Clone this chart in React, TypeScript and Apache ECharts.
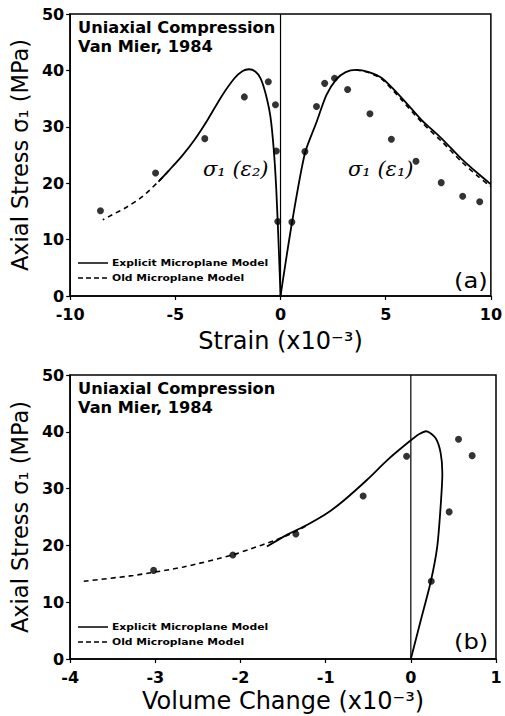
import React, { useEffect, useRef } from "react";
import * as echarts from "echarts";

// ---------- Panel (a): stress vs strain (x10^-3) ----------
const aTestLeft: [number, number][] = [
  [-8.56, 15.1], [-5.94, 21.8], [-3.6, 27.9], [-1.72, 35.3],
  [-0.58, 38.0], [-0.24, 33.9], [-0.2, 25.7], [-0.13, 13.2],
];
const aTestRight: [number, number][] = [
  [0.54, 13.1], [1.16, 25.6], [1.71, 33.6], [2.1, 37.7], [2.57, 38.6],
  [3.19, 36.6], [4.25, 32.3], [5.27, 27.8], [6.44, 23.9], [7.64, 20.1],
  [8.66, 17.7], [9.47, 16.7],
];
const aExplicitLeft: [number, number][] = [
  [0, 0], [-0.08, 8.2], [-0.2, 18.8], [-0.32, 25.9], [-0.48, 31.8],
  [-0.71, 35.9], [-0.95, 38.6], [-1.2, 39.8], [-1.5, 40.2], [-1.8, 39.9],
  [-2.19, 38.6], [-2.82, 35.3], [-3.44, 31.4], [-4.07, 27.8], [-4.69, 24.8],
  [-5.32, 22.2], [-5.8, 20.3],
];
const aOldLeft: [number, number][] = [
  [-5.32, 22.2], [-5.8, 20.3], [-6.57, 17.6], [-7.34, 15.7],
  [-8.0, 14.4], [-8.45, 13.5],
];
const aExplicitRight: [number, number][] = [
  [0, 0], [0.54, 12.9], [1.16, 25.3], [1.71, 30.8], [2.18, 35.6],
  [2.65, 38.4], [3.1, 39.7], [3.58, 40.1], [4.2, 39.7], [4.83, 38.6],
  [5.77, 35.1], [6.71, 31.2], [7.64, 28.0], [8.58, 24.4], [9.36, 21.8],
  [10, 19.8],
];
const aOldRight: [number, number][] = [
  [3.58, 40.1], [4.2, 39.6], [4.83, 38.4], [5.77, 34.7], [6.71, 30.8],
  [7.64, 27.5], [8.58, 23.9], [9.36, 21.3], [10, 19.4],
];

// ---------- Panel (b): stress vs volume change (x10^-3) ----------
const bTest: [number, number][] = [
  [-3.02, 15.6], [-2.09, 18.3], [-1.35, 22.0], [-0.56, 28.7], [-0.05, 35.7],
  [0.24, 13.7], [0.45, 25.9], [0.56, 38.7], [0.72, 35.8],
];
const bExplicit: [number, number][] = [
  [0, 0], [0.12, 7.0], [0.235, 13.7], [0.31, 19.8], [0.35, 26.9],
  [0.37, 32.7], [0.35, 36.3], [0.29, 38.9], [0.18, 40.1], [0.1, 39.6],
  [0, 38.5], [-0.27, 35.1], [-0.51, 31.6], [-0.78, 28.0], [-0.98, 25.7],
  [-1.22, 23.6], [-1.45, 21.9], [-1.69, 19.8],
];
const bOld: [number, number][] = [
  [-3.84, 13.7], [-3.26, 14.7], [-2.67, 16.2], [-2.1, 18.3], [-1.88, 19.4],
  [-1.61, 20.8], [-1.4, 22.1], [-1.22, 23.5],
];

const zeroLine: [number, number][] = [[0, 0], [0, 50]];

const stressTicks = { min: 0, max: 50, interval: 10 };
const strainTicks = { min: -10, max: 10, interval: 5 };
const volumeTicks = { min: -4, max: 1, interval: 1 };

const legendLabels = ["Explicit Microplane Model", "Old Microplane Model"];
const noteLines = ["Uniaxial Compression", "Van Mier, 1984"];

const FONT = "DejaVu Sans";

export default function App() {
  const ref = useRef<HTMLDivElement>(null);

  useEffect(() => {
    if (!ref.current) return;
    const chart = echarts.init(ref.current, null, { renderer: "svg" });

    const yAxisBase = (gridIndex: number) => ({
      gridIndex,
      type: "value" as const,
      ...stressTicks,
      name: "Axial Stress σ₁ (MPa)",
      nameLocation: "middle" as const,
      nameGap: 29,
      nameTextStyle: { fontFamily: FONT, fontSize: 22.5, color: "#000" },
      axisLine: { show: true, onZero: false, lineStyle: { color: "#000", width: 1.5 } },
      axisTick: { show: true, length: 4, lineStyle: { color: "#000", width: 1.2 } },
      axisLabel: { margin: 6, fontFamily: FONT, fontWeight: "bold" as const, fontSize: 16, color: "#000" },
      splitLine: { show: false },
    });

    const xAxisBase = (gridIndex: number, ticks: any, name: string, gap: number) => ({
      gridIndex,
      type: "value" as const,
      ...ticks,
      name,
      nameLocation: "middle" as const,
      nameGap: gap,
      nameTextStyle: { fontFamily: FONT, fontSize: 24, color: "#000", verticalAlign: "top" as const },
      axisLine: { show: true, onZero: false, lineStyle: { color: "#000", width: 1.5 } },
      axisTick: { show: true, length: 4, lineStyle: { color: "#000", width: 1.2 } },
      axisLabel: { margin: 10, fontFamily: FONT, fontWeight: "bold" as const, fontSize: 16, color: "#000" },
      splitLine: { show: false },
    });

    const solid = (data: [number, number][], idx: number) => ({
      type: "line" as const,
      xAxisIndex: idx,
      yAxisIndex: idx,
      data,
      showSymbol: false,
      smooth: 0.25,
      lineStyle: { color: "#000", width: 1.8 },
      z: 3,
    });
    const dashed = (data: [number, number][], idx: number) => ({
      type: "line" as const,
      xAxisIndex: idx,
      yAxisIndex: idx,
      data,
      showSymbol: false,
      smooth: 0.25,
      lineStyle: { color: "#000", width: 1.6, type: [5, 4] as any },
      z: 2,
    });
    const dots = (data: [number, number][], idx: number) => ({
      type: "scatter" as const,
      xAxisIndex: idx,
      yAxisIndex: idx,
      data,
      symbol: "circle",
      symbolSize: 7,
      itemStyle: { color: "#000" },
      z: 4,
    });
    const zero = (idx: number) => ({
      type: "line" as const,
      xAxisIndex: idx,
      yAxisIndex: idx,
      data: zeroLine,
      showSymbol: false,
      lineStyle: { color: "#000", width: 1.2 },
      z: 1,
    });

    const bold = (size: number) => ({
      fontFamily: FONT,
      fontWeight: "bold" as const,
      fontSize: size,
      fill: "#000",
    });

    const panelGraphics = (top: number, legendY: number, tag: string, tagY: number) => [
      { type: "text", x: 78, y: top, scaleX: 1.08, style: { text: noteLines[0], ...bold(15) } },
      { type: "text", x: 78, y: top + 19, scaleX: 1.08, style: { text: noteLines[1], ...bold(15) } },
      { type: "line", shape: { x1: 78, y1: legendY, x2: 108, y2: legendY }, style: { stroke: "#000", lineWidth: 1.5 } },
      { type: "line", shape: { x1: 78, y1: legendY + 15, x2: 108, y2: legendY + 15 }, style: { stroke: "#000", lineWidth: 1.5, lineDash: [5, 3] } },
      { type: "text", x: 112, y: legendY - 5, scaleX: 1.27, style: { text: legendLabels[0], ...bold(8.5) } },
      { type: "text", x: 112, y: legendY + 10, scaleX: 1.27, style: { text: legendLabels[1], ...bold(8.5) } },
      { type: "text", x: 454, y: tagY, scaleX: 1.1, style: { text: tag, fontFamily: FONT, fontSize: 22, fill: "#000" } },
    ];

    chart.setOption({
      animation: false,
      backgroundColor: "#fff",
      grid: [
        { left: 70, top: 14, width: 427, height: 282, show: true, borderColor: "#000", borderWidth: 1.5, backgroundColor: "transparent" },
        { left: 70, top: 375, width: 426, height: 284, show: true, borderColor: "#000", borderWidth: 1.5, backgroundColor: "transparent" },
      ],
      xAxis: [
        xAxisBase(0, strainTicks, "Strain (x10⁻³)", 33),
        xAxisBase(1, volumeTicks, "Volume Change (x10⁻³)", 30),
      ],
      yAxis: [yAxisBase(0), yAxisBase(1)],
      series: [
        zero(0),
        dashed(aOldLeft, 0),
        dashed(aOldRight, 0),
        solid(aExplicitLeft, 0),
        solid(aExplicitRight, 0),
        dots(aTestLeft, 0),
        dots(aTestRight, 0),
        zero(1),
        dashed(bOld, 1),
        solid(bExplicit, 1),
        dots(bTest, 1),
      ],
      graphic: [
        ...panelGraphics(21, 263, "(a)", 269),
        ...panelGraphics(382, 627, "(b)", 630),
        { type: "text", x: 203, y: 158, style: { text: "σ₁ (ε₂)", fontFamily: "DejaVu Serif", fontStyle: "italic", fontSize: 21, fill: "#000" } },
        { type: "text", x: 348, y: 158, style: { text: "σ₁ (ε₁)", fontFamily: "DejaVu Serif", fontStyle: "italic", fontSize: 21, fill: "#000" } },
      ],
    });

    return () => chart.dispose();
  }, []);

  return (
    <div
      ref={ref}
      style={{ position: "fixed", left: 0, top: 0, width: 505, height: 716, background: "#fff" }}
    />
  );
}
